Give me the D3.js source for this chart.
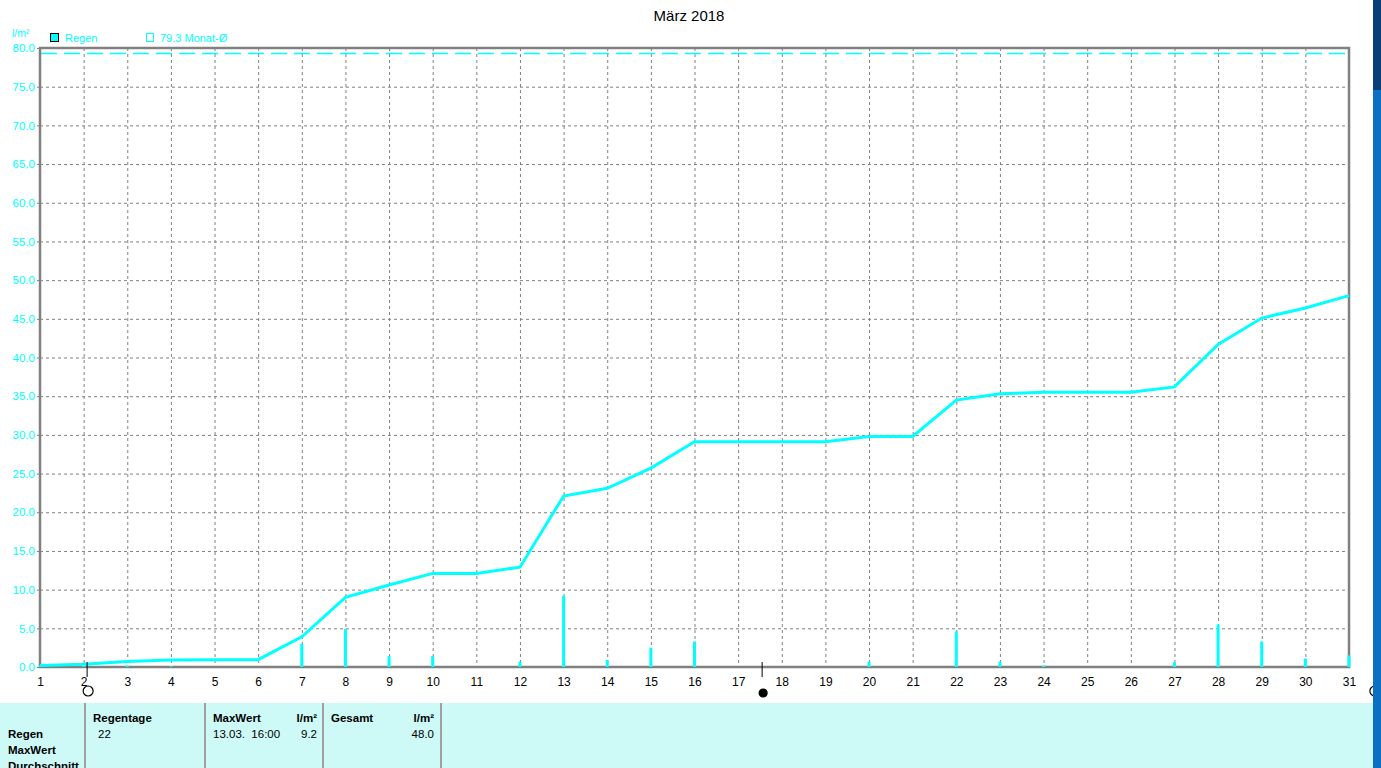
<!DOCTYPE html>
<html>
<head>
<meta charset="utf-8">
<script src="https://cdnjs.cloudflare.com/ajax/libs/d3/7.8.5/d3.min.js"></script>
<style>
body { margin: 0; background: #fff; overflow: hidden; }
svg { display: block; }
text { font-family: "Liberation Sans", Arial, sans-serif; }
</style>
</head>
<body>
<div id="chart"></div>
<script>
var days = d3.range(1, 32);
// daily rain (l/m²)
var dailyRain = [0.2, 0.1, 0.2, 0.1, 0, 0, 3.0, 4.9, 1.4, 1.4, 0, 0.7, 9.2, 0.9, 2.5, 3.3,
  0, 0, 0, 0.7, 0, 4.6, 0.7, 0.2, 0, 0, 0.6, 5.5, 3.3, 1.1, 1.5];
// cumulative total (l/m²)
var cumRain = [0.2, 0.35, 0.7, 0.9, 0.95, 0.95, 3.9, 9.0, 10.6, 12.1, 12.1, 12.9, 22.1, 23.1, 25.7, 29.1,
  29.1, 29.1, 29.1, 29.8, 29.8, 34.5, 35.3, 35.5, 35.5, 35.5, 36.2, 41.7, 45.1, 46.4, 48.0];
var monthAvg = 79.3;
var yTicks = d3.range(0, 80.1, 5);
var moonPhases = [{day: 2.08, type: "full"}, {day: 17.55, type: "new"}, {day: 31.57, type: "full"}];
var tableHeads = ["Regentage", "MaxWert", "l/m²", "Gesamt", "l/m²"];
var rowLabels = ["Regen", "MaxWert", "Durchschnitt"];
var regenValues = ["22", "13.03.  16:00", "9.2", "48.0"];

var width = 1381, height = 768;
var cyan = "#00ffff", grid = "#808080";

var svg = d3.select("#chart").append("svg")
  .attr("width", width).attr("height", height);

svg.append("rect").attr("width", width).attr("height", height).attr("fill", "#fff");

var x = d3.scaleLinear().domain([1, 31]).range([40, 1349]);
var y = d3.scaleLinear().domain([0, 80]).range([667, 48]);

svg.append("text").attr("x", 689).attr("y", 21).attr("text-anchor", "middle")
  .attr("font-size", 15).attr("fill", "#000").text("März 2018");

// grid
svg.append("g").attr("transform", "translate(0,48)")
  .call(d3.axisBottom(x).tickValues(days.slice(1, 30)).tickSize(619).tickFormat(""))
  .call(function(g) {
    g.select(".domain").remove();
    g.selectAll("line").attr("stroke", grid).attr("stroke-dasharray", "3,3");
  });
svg.append("g").attr("transform", "translate(40,0)")
  .call(d3.axisRight(y).tickValues(yTicks.slice(1, 16)).tickSize(1309).tickFormat(""))
  .call(function(g) {
    g.select(".domain").remove();
    g.selectAll("line").attr("stroke", grid).attr("stroke-dasharray", "3,3");
  });

// month average line
svg.append("line").attr("x1", 41).attr("x2", 1347)
  .attr("y1", y(monthAvg)).attr("y2", y(monthAvg))
  .attr("stroke", cyan).attr("stroke-width", 1.5).attr("stroke-dasharray", "16,7");

// frame
svg.append("rect").attr("x", 40).attr("y", 48).attr("width", 1309).attr("height", 619)
  .attr("fill", "none").attr("stroke", grid).attr("stroke-width", 2.5);

// bars
svg.selectAll(".bar").data(dailyRain).enter().append("rect")
  .attr("class", "bar")
  .attr("x", function(d, i) { return x(days[i]) - 1.5; })
  .attr("width", 3)
  .attr("y", function(d) { return y(d); })
  .attr("height", function(d) { return y(0) - y(d); })
  .attr("fill", cyan);

// cumulative line
svg.append("path").datum(cumRain)
  .attr("fill", "none").attr("stroke", cyan).attr("stroke-width", 3)
  .attr("d", d3.line().x(function(d, i) { return x(days[i]); }).y(function(d) { return y(d); }));

// y axis labels
svg.append("g").attr("transform", "translate(40,0)")
  .call(d3.axisLeft(y).tickValues(yTicks).tickSize(3).tickPadding(2).tickFormat(d3.format(".1f")))
  .call(function(g) {
    g.select(".domain").remove();
    g.selectAll("line").attr("stroke", grid);
    g.selectAll("text").attr("fill", cyan).attr("font-size", 11.5)
      .attr("font-family", "Liberation Sans, Arial, sans-serif");
  });

// x axis labels
svg.append("g").attr("transform", "translate(0,667)")
  .call(d3.axisBottom(x).tickValues(days).tickSize(0).tickPadding(10).tickFormat(d3.format("d")))
  .call(function(g) {
    g.select(".domain").remove();
    g.selectAll("text").attr("fill", "#000").attr("font-size", 12)
      .attr("font-family", "Liberation Sans, Arial, sans-serif");
  });

// unit + legend
svg.append("text").attr("x", 12).attr("y", 37).attr("font-size", 10.5).attr("fill", cyan).text("l/m²");
svg.append("rect").attr("x", 50.5).attr("y", 33.5).attr("width", 8).attr("height", 8)
  .attr("fill", cyan).attr("stroke", "#000");
svg.append("text").attr("x", 65).attr("y", 42).attr("font-size", 11).attr("fill", cyan).text("Regen");
svg.append("rect").attr("x", 146.5).attr("y", 33.5).attr("width", 7).attr("height", 8)
  .attr("fill", "none").attr("stroke", cyan);
svg.append("text").attr("x", 160).attr("y", 42).attr("font-size", 11).attr("fill", cyan).text(monthAvg + " Monat-Ø");

// moon phases
var moon = svg.append("g").selectAll("g").data(moonPhases).enter().append("g");
moon.append("line")
  .attr("x1", function(d) { return x(d.day); }).attr("x2", function(d) { return x(d.day); })
  .attr("y1", 662).attr("y2", 677).attr("stroke", "#000");
moon.append("circle")
  .attr("cx", function(d) { return x(d.day) + 1; })
  .attr("cy", function(d) { return d.type === "new" ? 693 : 691; })
  .attr("r", function(d) { return d.type === "new" ? 4 : 5; })
  .attr("fill", function(d) { return d.type === "new" ? "#000" : "#fff"; })
  .attr("stroke", "#000").attr("stroke-width", 1.2);

// table
var table = svg.append("g");
table.append("rect").attr("x", 0).attr("y", 703).attr("width", 1373).attr("height", 65).attr("fill", "#cdf9f7");
[85, 205, 323, 441].forEach(function(xx) {
  table.append("line").attr("x1", xx).attr("x2", xx).attr("y1", 703).attr("y2", 768)
    .attr("stroke", "#a0a0a0").attr("stroke-width", 2);
});
var headX = [93, 213, 317, 331, 434];
var headAnchor = ["start", "start", "end", "start", "end"];
table.selectAll(".head").data(tableHeads).enter().append("text")
  .attr("x", function(d, i) { return headX[i]; }).attr("y", 722)
  .attr("text-anchor", function(d, i) { return headAnchor[i]; })
  .attr("font-size", 11.5).attr("font-weight", "bold").attr("fill", "#000").text(function(d) { return d; });
table.selectAll(".row").data(rowLabels).enter().append("text")
  .attr("x", 8).attr("y", function(d, i) { return 738 + i * 16; })
  .attr("font-size", 11.5).attr("font-weight", "bold").attr("fill", "#000").text(function(d) { return d; });
var valX = [98, 213, 317, 434];
var valAnchor = ["start", "start", "end", "end"];
table.selectAll(".val").data(regenValues).enter().append("text")
  .attr("x", function(d, i) { return valX[i]; }).attr("y", 738)
  .attr("text-anchor", function(d, i) { return valAnchor[i]; })
  .attr("font-size", 11.5).attr("fill", "#000")
  .style("white-space", "pre").text(function(d) { return d; });

// desktop strip at the right edge (on top of the clipped moon marker)
svg.append("rect").attr("x", 1373).attr("y", 0).attr("width", 8).attr("height", height)
  .attr("fill", "#0b6fc4");
svg.append("rect").attr("x", 1373).attr("y", 0).attr("width", 8).attr("height", 90)
  .attr("fill", "#0a3e78");
</script>
</body>
</html>
